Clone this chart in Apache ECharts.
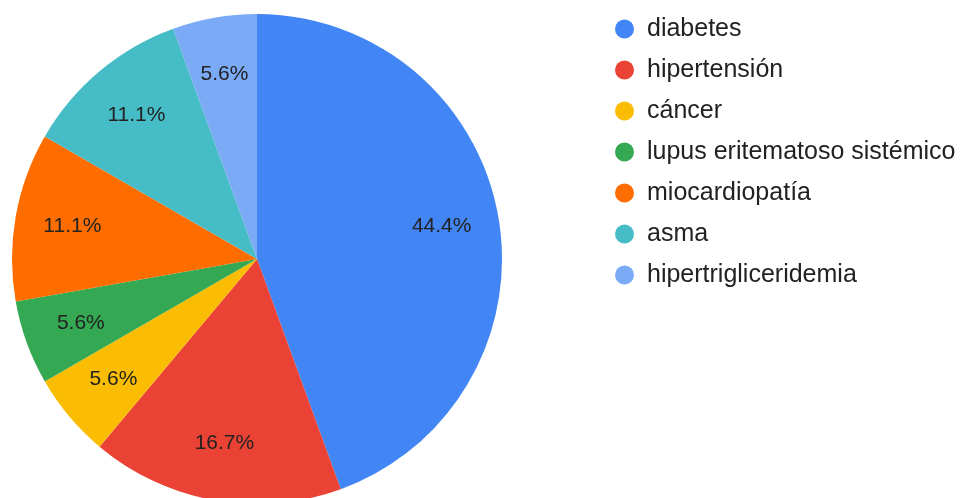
<!DOCTYPE html>
<html>
<head>
<meta charset="utf-8">
<script src="https://cdn.jsdelivr.net/npm/echarts@6/dist/echarts.min.js"></script>
<style>
  html, body { margin: 0; padding: 0; background: #fff; }
  #chart { width: 962px; height: 498px; }
</style>
</head>
<body>
<div id="chart"></div>
<script>
// enfermedades, en orden horario desde arriba
var categories = ['diabetes', 'hipertensión', 'cáncer', 'lupus eritematoso sistémico', 'miocardiopatía', 'asma', 'hipertrigliceridemia'];
var values = [8, 3, 1, 1, 2, 2, 1];
var colors = ['#4285F4', '#EA4335', '#FBBC04', '#34A853', '#FF6D01', '#46BDC6', '#7BAAF7'];

var total = values.reduce(function (a, b) { return a + b; }, 0);
var pieData = categories.map(function (c, i) {
  return { name: c, value: values[i], itemStyle: { color: colors[i] } };
});

var chart = echarts.init(document.getElementById('chart'));
var option = {
  animation: false,
  legend: {
    orient: 'vertical',
    left: 610,
    top: 10,
    icon: 'circle',
    itemWidth: 19,
    itemHeight: 19,
    itemGap: 13,
    textStyle: {
      fontSize: 25,
      lineHeight: 28,
      color: '#222',
      fontFamily: 'Liberation Sans, Arial, sans-serif',
      padding: [0, 0, 0, 8]
    },
    data: categories
  },
  series: [
    {
      type: 'pie',
      center: [257, 259],
      radius: [0, 245],
      startAngle: 90,
      clockwise: true,
      silent: true,
      label: { show: false },
      labelLine: { show: false },
      data: pieData
    },
    {
      // anillo invisible solo para colocar las etiquetas
      type: 'pie',
      center: [257, 259],
      radius: [124, 245],
      startAngle: 90,
      clockwise: true,
      silent: true,
      legendHoverLink: false,
      itemStyle: { color: 'rgba(0,0,0,0)' },
      label: {
        show: true,
        position: 'inside',
        fontSize: 21,
        color: '#222',
        fontFamily: 'Liberation Sans, Arial, sans-serif',
        formatter: function (p) {
          return (p.value / total * 100).toFixed(1) + '%';
        }
      },
      labelLine: { show: false },
      data: categories.map(function (c, i) { return { name: c + ' ', value: values[i] }; })
    }
  ]
};
chart.setOption(option);
</script>
</body>
</html>
